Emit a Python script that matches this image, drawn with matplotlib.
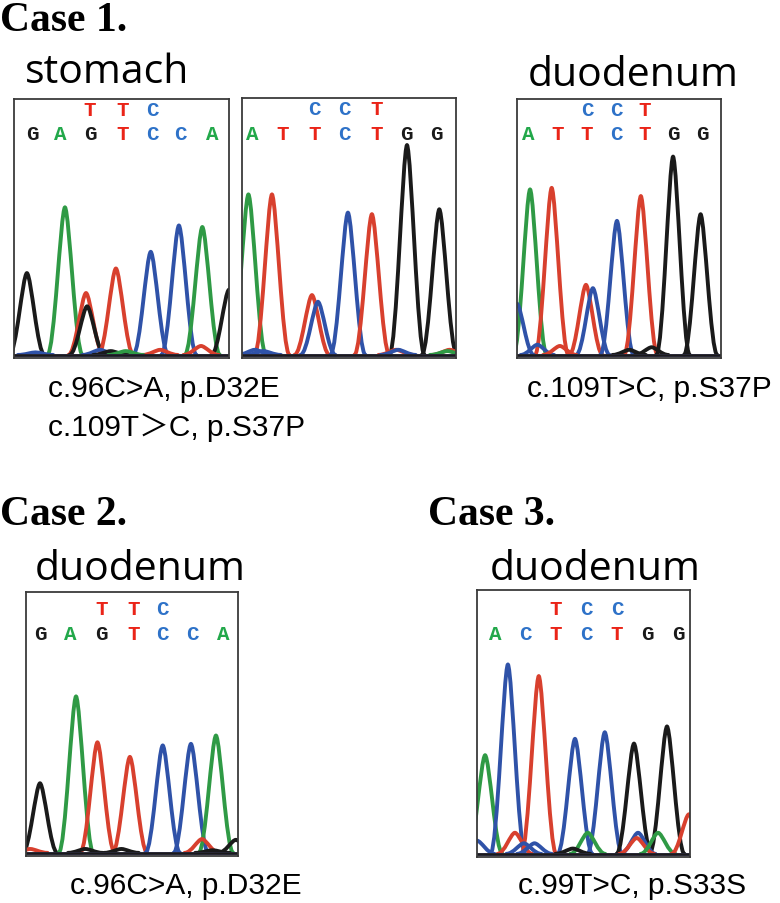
import matplotlib
matplotlib.use('Agg')
import matplotlib.pyplot as plt
from matplotlib.path import Path
from matplotlib.patches import PathPatch

W, H = 780, 904

# base calls (primary row, secondary row) and their positions
p1_bases = list('GAGTCCA')
p1_base_x = [0.084, 0.214, 0.353, 0.507, 0.642, 0.772, 0.921]
p1_alt = list('TTC')
p1_alt_x = [0.353, 0.507, 0.642]
p1_peak_b = ['G', 'A', 'T', 'G', 'T', 'C', 'C', 'A', 'G', 'T', 'C', 'G', 'T', 'A', 'C']
p1_peak_x = [0.06, 0.237, 0.335, 0.34, 0.474, 0.636, 0.767, 0.876, 1.0, 0.87, 0.40, 0.45, 0.68, 0.52, 0.10]
p1_peak_h = [0.32, 0.577, 0.242, 0.19, 0.338, 0.403, 0.506, 0.50, 0.255, 0.035, 0.02, 0.015, 0.02, 0.015, 0.01]

p2_bases = list('ATTCTGG')
p2_base_x = [0.05, 0.19, 0.34, 0.48, 0.63, 0.77, 0.91]
p2_alt = list('CCT')
p2_alt_x = [0.34, 0.48, 0.63]
p2_peak_b = ['A', 'T', 'T', 'C', 'C', 'T', 'G', 'G', 'C', 'C', 'T', 'C', 'T', 'A']
p2_peak_x = [0.03, 0.14, 0.327, 0.355, 0.495, 0.607, 0.771, 0.922, 0.06, 0.10, 0.72, 0.73, 0.97, 0.96]
p2_peak_h = [0.625, 0.625, 0.233, 0.207, 0.554, 0.548, 0.817, 0.567, 0.02, 0.015, 0.02, 0.02, 0.02, 0.015]

p3_bases = list('ATTCTGG')
p3_base_x = [0.054, 0.20, 0.343, 0.485, 0.627, 0.765, 0.907]
p3_alt = list('CCT')
p3_alt_x = [0.343, 0.485, 0.627]
p3_peak_b = ['A', 'T', 'T', 'C', 'C', 'T', 'G', 'G', 'C', 'C', 'T', 'G', 'G']
p3_peak_x = [0.064, 0.17, 0.338, 0.372, 0.49, 0.607, 0.765, 0.90, 0.0, 0.10, 0.21, 0.55, 0.66]
p3_peak_h = [0.647, 0.653, 0.274, 0.261, 0.524, 0.621, 0.775, 0.55, 0.20, 0.04, 0.035, 0.02, 0.03]

p4_bases = list('GAGTCCA')
p4_base_x = [0.066, 0.21, 0.357, 0.506, 0.643, 0.785, 0.93]
p4_alt = list('TTC')
p4_alt_x = [0.357, 0.506, 0.643]
p4_peak_b = ['G', 'A', 'T', 'T', 'C', 'C', 'A', 'T', 'G', 'T', 'G', 'G', 'G']
p4_peak_x = [0.066, 0.236, 0.337, 0.49, 0.645, 0.778, 0.896, 0.83, 0.99, 0.02, 0.28, 0.45, 0.88]
p4_peak_h = [0.267, 0.60, 0.424, 0.368, 0.412, 0.418, 0.45, 0.053, 0.05, 0.015, 0.015, 0.015, 0.01]

p5_bases = list('ACTCTGG')
p5_base_x = [0.085, 0.225, 0.371, 0.512, 0.657, 0.798, 0.944]
p5_alt = list('TCC')
p5_alt_x = [0.371, 0.512, 0.657]
p5_peak_b = ['A', 'C', 'T', 'C', 'C', 'G', 'G', 'T', 'A', 'C', 'T', 'A', 'T', 'C', 'C', 'G', 'C']
p5_peak_x = [0.038, 0.145, 0.29, 0.46, 0.60, 0.737, 0.892, 0.178, 0.52, 0.756, 0.75, 0.85, 0.995, 0.22, 0.27, 0.45, 0.0]
p5_peak_h = [0.374, 0.718, 0.674, 0.436, 0.461, 0.418, 0.483, 0.08, 0.08, 0.08, 0.06, 0.08, 0.15, 0.04, 0.04, 0.02, 0.05]

trace_col = {'A': '#2f9a45', 'C': '#2f52a8', 'G': '#1a1a1a', 'T': '#d8402e'}
text_col = {'A': '#22a84a', 'C': '#2e72c8', 'G': '#1a1a1a', 'T': '#ea2418'}


def px(x, y):
    return x / W, 1 - y / H


def peak_path(c, h, w=0.082):
    verts = [(c - w, 0), (c - 0.6 * w, 0), (c - 0.25 * w, 0.98 * h), (c, h),
             (c + 0.25 * w, 0.98 * h), (c + 0.6 * w, 0), (c + w, 0)]
    codes = [Path.MOVETO] + [Path.CURVE4] * 6
    return Path(verts, codes)


def panel(box, bases, base_x, alt, alt_x, pb, pxs, ph, yrow, yalt):
    x0, y0, x1, y1 = box
    ax = fig.add_axes([x0 / W, 1 - y1 / H, (x1 - x0) / W, (y1 - y0) / H])
    ax.set_xlim(0, 1)
    ax.set_ylim(-0.012, 1)
    for b in ['T', 'C', 'G']:
        ax.plot([0, 1], [0.0, 0.0], color=trace_col[b], lw=1.8)
    for b, c, h in zip(pb, pxs, ph):
        ax.add_patch(PathPatch(peak_path(c, h), fill=False, edgecolor=trace_col[b],
                               lw=2.8, capstyle='round', joinstyle='round'))
    for b, x in zip(bases, base_x):
        ax.text(x, yrow, b, color=text_col[b], ha='center', va='center',
                family='Liberation Mono', weight='bold', fontsize=15)
    for b, x in zip(alt, alt_x):
        ax.text(x, yalt, b, color=text_col[b], ha='center', va='center',
                family='Liberation Mono', weight='bold', fontsize=15)
    ax.set_xticks([])
    ax.set_yticks([])
    for s in ax.spines.values():
        s.set_color('#3a3a3a')
        s.set_linewidth(1.3)
    return ax


fig = plt.figure(figsize=(7.8, 9.04), dpi=100)
fig.patch.set_facecolor('white')

panel((14, 100, 229, 359), p1_bases, p1_base_x, p1_alt, p1_alt_x,
      p1_peak_b, p1_peak_x, p1_peak_h, 0.865, 0.96)
panel((242, 99, 456, 359), p2_bases, p2_base_x, p2_alt, p2_alt_x,
      p2_peak_b, p2_peak_x, p2_peak_h, 0.862, 0.96)
panel((517, 100, 721, 359), p3_bases, p3_base_x, p3_alt, p3_alt_x,
      p3_peak_b, p3_peak_x, p3_peak_h, 0.865, 0.96)
panel((26, 593, 238, 857), p4_bases, p4_base_x, p4_alt, p4_alt_x,
      p4_peak_b, p4_peak_x, p4_peak_h, 0.84, 0.935)
panel((477, 591, 690, 858), p5_bases, p5_base_x, p5_alt, p5_alt_x,
      p5_peak_b, p5_peak_x, p5_peak_h, 0.836, 0.93)

case_kw = dict(family='Liberation Serif', weight='bold', fontsize=30, va='baseline', ha='left')
site_kw = dict(family='Open Sans', fontsize=29.5, va='baseline', ha='left')
mut_kw = dict(family='Liberation Sans', fontsize=21.5, va='baseline', ha='left')

fig.text(*px(0, 31), 'Case 1.', **case_kw)
fig.text(*px(0, 525), 'Case 2.', **case_kw)
fig.text(*px(428, 525), 'Case 3.', **case_kw)

fig.text(*px(25, 83), 'stomach', **site_kw)
fig.text(*px(528, 86), 'duodenum', **site_kw)
fig.text(*px(35, 580), 'duodenum', **site_kw)
fig.text(*px(490, 580), 'duodenum', **site_kw)

fig.text(*px(48, 397), 'c.96C>A, p.D32E', **mut_kw)
fig.text(*px(48, 436), 'c.109T\uff1eC, p.S37P',
         family=['Liberation Sans', 'Noto Sans CJK JP'], fontsize=21.5, va='baseline', ha='left')
fig.text(*px(527, 397), 'c.109T>C, p.S37P', **mut_kw)
fig.text(*px(70, 894), 'c.96C>A, p.D32E', **mut_kw)
fig.text(*px(518, 894), 'c.99T>C, p.S33S', **mut_kw)

fig.savefig('out.png', dpi=100)
